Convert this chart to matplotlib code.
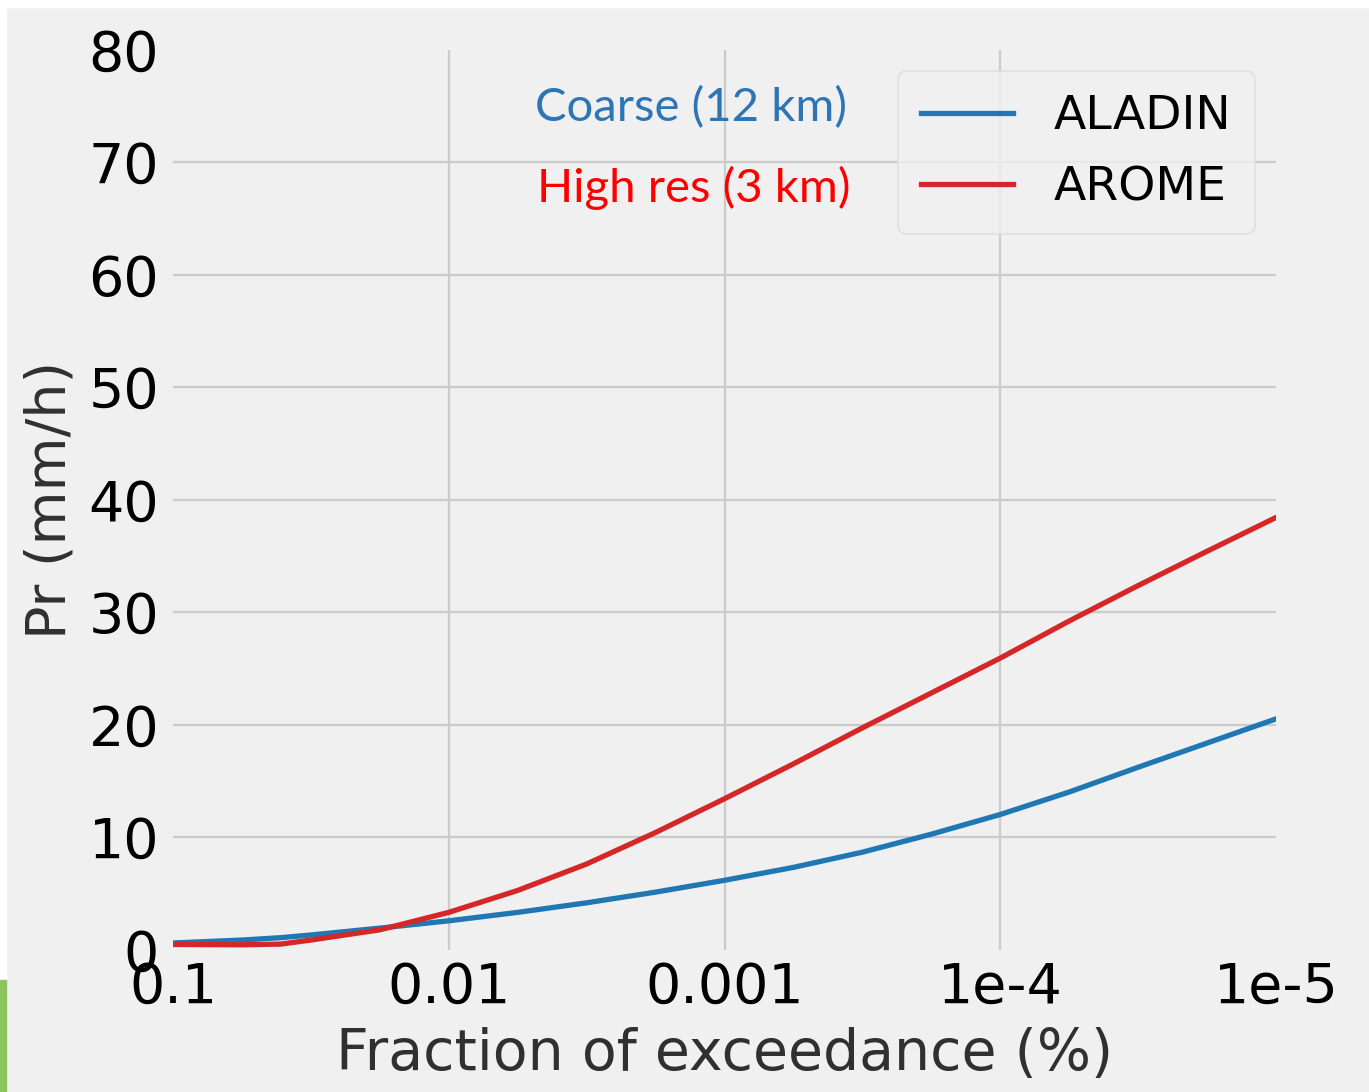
import numpy as np
import matplotlib.pyplot as plt
from matplotlib.patches import Rectangle

# Exceedance fraction (%) on log axis (decade exponents)
log_frac = np.array([-1, -1.25, -1.39, -1.5, -1.75, -2, -2.25, -2.5, -2.75, -3,
                     -3.25, -3.5, -3.75, -4, -4.25, -4.5, -4.75, -5])
frac = 10.0 ** log_frac
aladin = [0.58, 0.84, 1.05, 1.29, 1.9, 2.55, 3.3, 4.15, 5.1, 6.15, 7.3, 8.65, 10.25,
          12.0, 14.0, 16.2, 18.35, 20.5]
arome = [0.45, 0.42, 0.48, 0.84, 1.75, 3.3, 5.25, 7.6, 10.4, 13.4, 16.5, 19.7, 22.8,
         25.9, 29.2, 32.35, 35.4, 38.4]

xticks = [1e-1, 1e-2, 1e-3, 1e-4, 1e-5]
xticklabels = ['0.1', '0.01', '0.001', '1e-4', '1e-5']
yticks = [0, 10, 20, 30, 40, 50, 60, 70, 80]

bg = '#f0f0f0'
plt.rcParams['font.family'] = 'DejaVu Sans'

fig = plt.figure(figsize=(13.69, 10.92), dpi=100, facecolor=bg)
ax = fig.add_axes([173/1369, 1 - 949.5/1092, 1103/1369, 900/1092])
ax.set_facecolor(bg)

ax.plot(frac, aladin, color='#1f77b4', lw=3.8, label='ALADIN', solid_joinstyle='round')
ax.plot(frac, arome, color='#d62728', lw=3.8, label='AROME', solid_joinstyle='round')

ax.set_xscale('log')
ax.set_xlim(1e-1, 1e-5)
ax.set_ylim(0, 80)
ax.set_xticks(xticks)
ax.set_xticklabels(xticklabels)
ax.minorticks_off()
ax.set_yticks(yticks)
ax.tick_params(axis='both', length=0, labelsize=40, colors='black')
ax.tick_params(axis='y', pad=10)
ax.tick_params(axis='x', pad=8)
for s in ax.spines.values():
    s.set_visible(False)

ax.grid(True, color='#cbcbcb', lw=1.6)
ax.set_axisbelow(True)
for gl in (ax.xaxis.get_gridlines()[0], ax.xaxis.get_gridlines()[-1],
           ax.yaxis.get_gridlines()[0], ax.yaxis.get_gridlines()[-1]):
    gl.set_visible(False)

ax.set_xlabel('Fraction of exceedance (%)', fontsize=41, color='#303030', labelpad=9)
ax.set_ylabel('Pr (mm/h)', fontsize=40, color='#303030', labelpad=8)

leg = ax.legend(loc='upper right', fontsize=34, frameon=True, facecolor=bg,
                edgecolor='#dcdcdc', handlelength=1.95, handletextpad=0.85,
                borderaxespad=0.45, labelspacing=0.55, borderpad=0.5)
leg.get_frame().set_linewidth(1.2)

ax.text(0.328, 0.935, 'Coarse (12 km)', transform=ax.transAxes, color='#2e75b6',
        fontsize=34, family='Lato', va='center', ha='left')
ax.text(0.330, 0.846, 'High res (3 km)', transform=ax.transAxes, color='#ff0000',
        fontsize=34, family='Lato', va='center', ha='left')

# screenshot borders
fig.patches.append(Rectangle((0, 0), 6/1369, 1, transform=fig.transFigure,
                             color='white', zorder=10))
fig.patches.append(Rectangle((0, 1 - 7/1092), 1, 7/1092, transform=fig.transFigure,
                             color='white', zorder=10))
fig.patches.append(Rectangle((0, 0), 6/1369, 1 - 980/1092, transform=fig.transFigure,
                             color='#8cc45e', zorder=11))

fig.savefig('out.png', dpi=100, facecolor=bg)
